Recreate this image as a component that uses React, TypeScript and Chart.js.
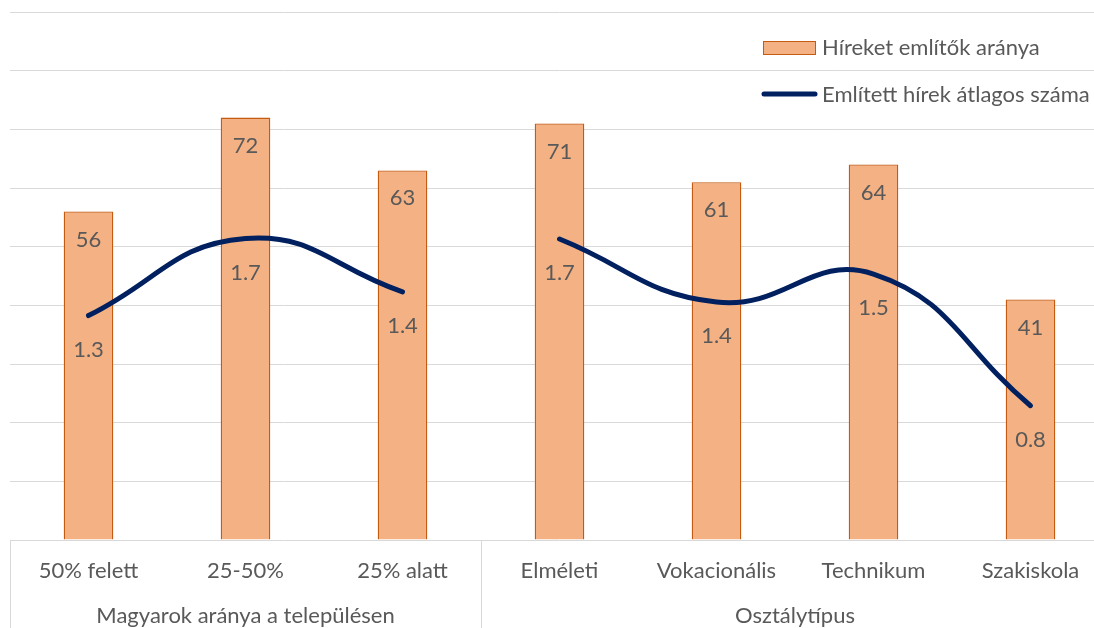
import { useEffect, useRef } from "react";
import { Chart, registerables } from "chart.js";

Chart.register(...registerables);

const categories = ["50% felett", "25-50%", "25% alatt", "Elméleti", "Vokacionális", "Technikum", "Szakiskola"];
const groupLabels = ["Magyarok aránya a településen", "Osztálytípus"];
const groupSizes = [3, 4];
const shareValues = [56, 72, 63, 71, 61, 64, 41];
const avgGroup1 = [1.275, 1.713, 1.41, null, null, null, null];
const avgGroup2 = [null, null, null, 1.71, 1.352, 1.511, 0.763];
const seriesLabels = ["Híreket említők aránya", "Említett hírek átlagos száma"];

const FONT = "Lato";
const FS = 22;
const TEXT = "#595959";
const GRID = "#d9d9d9";
const BAR_FILL = "#F4B183";
const BAR_BORDER = "#C55A11";
const LINE = "#002060";

const overlay = {
  id: "overlay",
  afterDatasetsDraw(chart: any) {
    const ctx = chart.ctx;
    ctx.save();
    ctx.font = `${FS}px ${FONT}`;
    ctx.fillStyle = TEXT;
    ctx.textAlign = "center";
    ctx.textBaseline = "middle";
    const barMeta = chart.getDatasetMeta(0);
    barMeta.data.forEach((el: any, i: number) => {
      ctx.fillText(String(Math.round(shareValues[i])), el.x, el.y + 28);
    });
    [1, 2].forEach((di) => {
      const meta = chart.getDatasetMeta(di);
      const data = chart.data.datasets[di].data;
      meta.data.forEach((el: any, i: number) => {
        if (data[i] == null) return;
        ctx.fillText((data[i] as number).toFixed(1), el.x, el.y + 34);
      });
    });

    // category axis labels
    const xs = chart.scales.x;
    const bottom = chart.chartArea.bottom;
    const H = chart.height;
    categories.forEach((c, i) => ctx.fillText(c, xs.getPixelForValue(i), 571));
    const half = (xs.getPixelForValue(1) - xs.getPixelForValue(0)) / 2;
    let start = 0;
    ctx.strokeStyle = GRID;
    ctx.lineWidth = 1;
    groupSizes.forEach((n, g) => {
      const left = xs.getPixelForValue(start) - half;
      const right = xs.getPixelForValue(start + n - 1) + half;
      ctx.beginPath();
      ctx.moveTo(Math.round(left) + 0.5, bottom);
      ctx.lineTo(Math.round(left) + 0.5, H);
      ctx.moveTo(Math.round(right) + 0.5, bottom);
      ctx.lineTo(Math.round(right) + 0.5, H);
      ctx.stroke();
      ctx.fillText(groupLabels[g], (left + right) / 2, 616);
      start += n;
    });

    // legend
    ctx.textAlign = "left";
    ctx.fillStyle = BAR_FILL;
    ctx.fillRect(763.5, 41.5, 52, 13);
    ctx.strokeStyle = BAR_BORDER;
    ctx.lineWidth = 1;
    ctx.strokeRect(763.5, 41.5, 52, 13);
    ctx.fillStyle = TEXT;
    ctx.fillText(chart.data.datasets[0].label, 822, 48);
    ctx.strokeStyle = LINE;
    ctx.lineWidth = 5;
    ctx.lineCap = "round";
    ctx.beginPath();
    ctx.moveTo(764, 94);
    ctx.lineTo(815, 94);
    ctx.stroke();
    ctx.fillText(chart.data.datasets[1].label, 822, 95);
    ctx.restore();
  },
};

export default function App() {
  const ref = useRef<HTMLCanvasElement | null>(null);
  useEffect(() => {
    if (!ref.current) return;
    const lineCommon = {
      type: "line" as const,
      yAxisID: "y2",
      borderColor: LINE,
      backgroundColor: LINE,
      borderWidth: 5,
      borderCapStyle: "round" as const,
      borderJoinStyle: "round" as const,
      pointRadius: 0,
      tension: 0.45,
      spanGaps: false,
      order: 0,
    };
    const chart = new Chart(ref.current, {
      type: "bar",
      data: {
        labels: categories,
        datasets: [
          {
            type: "bar",
            label: seriesLabels[0],
            data: shareValues,
            backgroundColor: BAR_FILL,
            borderColor: BAR_BORDER,
            borderWidth: 1.3,
            categoryPercentage: 1,
            barPercentage: 0.316,
            yAxisID: "y",
            order: 1,
          },
          { ...lineCommon, label: seriesLabels[1], data: avgGroup1 },
          { ...lineCommon, label: seriesLabels[1], data: avgGroup2 },
        ] as any,
      },
      options: {
        animation: false,
        responsive: true,
        maintainAspectRatio: false,
        layout: { padding: { left: 10, right: 11, top: 12, bottom: 88 } },
        plugins: { legend: { display: false }, tooltip: { enabled: false } },
        scales: {
          x: { display: false, offset: true },
          y: {
            display: true,
            min: 0,
            max: 90,
            ticks: { display: false, stepSize: 10 },
            grid: { drawTicks: false, color: GRID, lineWidth: 1 },
            border: { display: false },
          },
          y2: { display: false, min: 0, max: 3 },
        },
      },
      plugins: [overlay],
    });
    return () => chart.destroy();
  }, []);
  return (
    <div style={{ position: "fixed", left: 0, top: 0, width: 1094, height: 628, overflow: "hidden", background: "#fff" }}>
      <div style={{ position: "relative", width: 1120, height: 628 }}>
        <canvas ref={ref} />
      </div>
    </div>
  );
}
